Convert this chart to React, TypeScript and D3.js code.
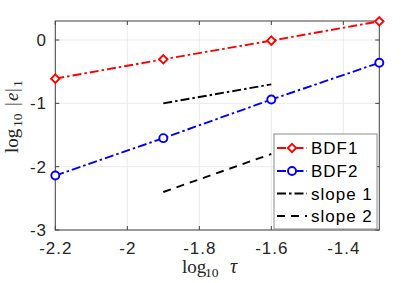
import React from "react";
import * as d3 from "d3";

const xs = [-2.2, -1.9, -1.6, -1.3];
const bdf1 = [-0.61, -0.305, -0.01, 0.295];
const bdf2 = [-2.14, -1.55, -0.94, -0.36];
const slope1X = [-1.9, -1.6];
const slope1Y = [-1.0, -0.7];
const slope2X = [-1.9, -1.6];
const slope2Y = [-2.4, -1.8];
const xTicks = [-2.2, -2, -1.8, -1.6, -1.4];
const yTicks = [-3, -2, -1, 0];
const legendLabels = ["BDF1", "BDF2", "slope 1", "slope 2"];

const W = 418, H = 283;
const L = 55.3, R = 379.3, T = 21, B = 230;

export default function App() {
  const x = d3.scaleLinear().domain([-2.2, -1.3]).range([L, R]);
  const y = d3.scaleLinear().domain([-3, 0.3]).range([B, T]);
  const line = d3.line<[number, number]>().x(d => x(d[0])).y(d => y(d[1]));
  const pts = (a: number[], b: number[]) => a.map((v, i) => [v, b[i]] as [number, number]);
  const font = "'Liberation Sans', Arial, Helvetica, sans-serif";
  const serif = "'Liberation Serif', 'Times New Roman', serif";
  const fs = 17;
  const ls = 1;
  const lw = 1.9;
  const dashDot = "9,3,2.5,3";
  const dashed = "8,6";
  const diamond = (cx: number, cy: number, s = 4.2) =>
    `M${cx},${cy - s}L${cx + s},${cy}L${cx},${cy + s}L${cx - s},${cy}Z`;
  const legY = [148, 171, 193.5, 216];
  return (
    <svg width={W} height={H} style={{ position: "absolute", left: 0, top: 0, background: "#fff" }}>
      {/* grid */}
      {xTicks.map(t => (
        <line key={"gx" + t} x1={x(t)} x2={x(t)} y1={T} y2={B} stroke="#e6e6e6" strokeWidth={0.8} />
      ))}
      {yTicks.map(t => (
        <line key={"gy" + t} x1={L} x2={R} y1={y(t)} y2={y(t)} stroke="#e6e6e6" strokeWidth={0.8} />
      ))}
      {/* ticks */}
      {xTicks.map(t => (
        <g key={"tx" + t}>
          <line x1={x(t)} x2={x(t)} y1={B} y2={B - 4} stroke="#404040" />
          <line x1={x(t)} x2={x(t)} y1={T} y2={T + 4} stroke="#404040" />
          <text x={x(t) + ls / 2} y={253.5} textAnchor="middle" fontFamily={font} fontSize={fs} letterSpacing={ls} fill="#262626">
            {t === -2 ? "-2" : t.toFixed(1)}
          </text>
        </g>
      ))}
      {yTicks.map(t => (
        <g key={"ty" + t}>
          <line x1={L} x2={L + 4} y1={y(t)} y2={y(t)} stroke="#404040" />
          <line x1={R} x2={R - 4} y1={y(t)} y2={y(t)} stroke="#404040" />
          <text x={47} y={y(t)} dy="0.36em" textAnchor="end" fontFamily={font} fontSize={fs} letterSpacing={ls} fill="#262626">
            {String(t)}
          </text>
        </g>
      ))}
      {/* box */}
      <rect x={L} y={T} width={R - L} height={B - T} fill="none" stroke="#404040" strokeWidth={1} />
      {/* slope lines */}
      <path d={line(pts(slope1X, slope1Y)) || ""} fill="none" stroke="#000" strokeWidth={lw} strokeDasharray={dashDot} />
      <path d={line(pts(slope2X, slope2Y)) || ""} fill="none" stroke="#000" strokeWidth={lw} strokeDasharray={dashed} />
      {/* series */}
      <path d={line(pts(xs, bdf1)) || ""} fill="none" stroke="#ff0000" strokeWidth={lw} strokeDasharray={dashDot} />
      {xs.map((v, i) => (
        <path key={"d" + i} d={diamond(x(v), y(bdf1[i]))} fill="#fff" stroke="#ff0000" strokeWidth={1.9} />
      ))}
      <path d={line(pts(xs, bdf2)) || ""} fill="none" stroke="#0000ff" strokeWidth={lw} strokeDasharray={dashDot} />
      {xs.map((v, i) => (
        <circle key={"c" + i} cx={x(v)} cy={y(bdf2[i])} r={4} fill="#fff" stroke="#0000ff" strokeWidth={1.9} />
      ))}
      {/* legend */}
      <rect x={274} y={134} width={103} height={95} fill="#fff" stroke="#8c8c8c" strokeWidth={1} />
      {legendLabels.map((lab, i) => {
        const ly = legY[i];
        const color = i === 0 ? "#ff0000" : i === 1 ? "#0000ff" : "#000";
        return (
          <g key={lab}>
            <line x1={277} x2={307} y1={ly} y2={ly} stroke={color} strokeWidth={lw}
              strokeDasharray={i === 3 ? dashed : dashDot} />
            {i === 0 && <path d={diamond(292, ly)} fill="#fff" stroke="#ff0000" strokeWidth={1.9} />}
            {i === 1 && <circle cx={292} cy={ly} r={4} fill="#fff" stroke="#0000ff" strokeWidth={1.9} />}
            <text x={311} y={ly} dy="0.36em" fontFamily={font} fontSize={fs} letterSpacing={ls} fill="#000">{lab}</text>
          </g>
        );
      })}
      {/* axis labels */}
      <text x={182} y={273} fontFamily={serif} fontSize={19} fill="#262626">
        log<tspan x={205} fontSize={13.5} dy={4}>10</tspan><tspan x={230} dy={-4} fontStyle="italic" fontSize={20}>τ</tspan>
      </text>
      <text transform={`translate(18,153) rotate(-90)`} x={0} y={0} fontFamily={serif} fontSize={19} fill="#262626">
        log<tspan x={26} fontSize={13.5} dy={4}>10</tspan><tspan x={47} dy={-4}>|</tspan><tspan x={52} fontStyle="italic">e</tspan><tspan x={61}>|</tspan><tspan x={66} fontSize={13.5} dy={4}>1</tspan>
      </text>
    </svg>
  );
}
